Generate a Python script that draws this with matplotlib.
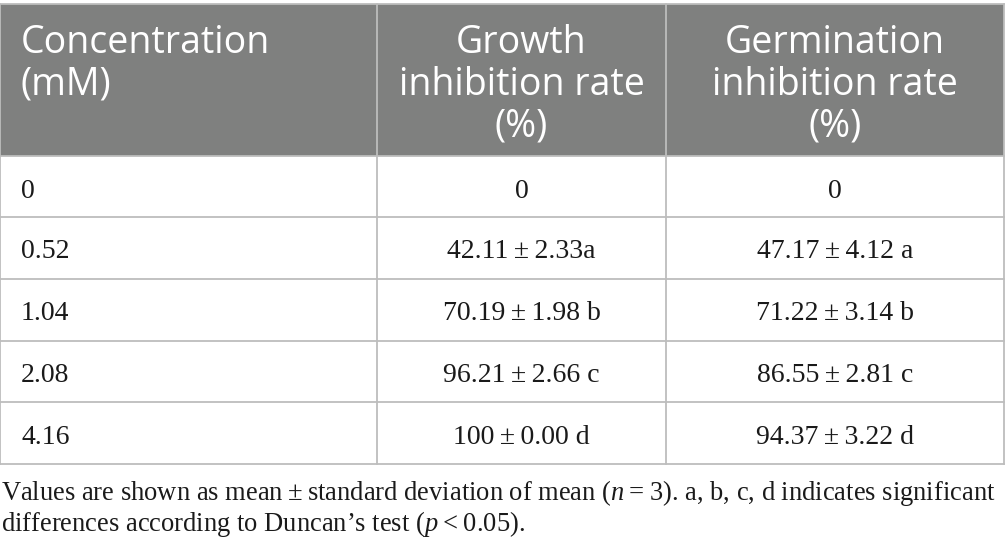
import matplotlib.pyplot as plt
from matplotlib.patches import Rectangle

# -----------------------------------
# Table content
# -----------------------------------
headers = [["Concentration", "(mM)"],
           ["Growth", "inhibition rate", "(%)"],
           ["Germination", "inhibition rate", "(%)"]]
concentration = ["0", "0.52", "1.04", "2.08", "4.16"]
growth_rate = ["0", "42.11\u2009±\u20092.33a", "70.19\u2009±\u20091.98 b", "96.21\u2009±\u20092.66 c", "100\u2009±\u20090.00 d"]
germination_rate = ["0", "47.17\u2009±\u20094.12 a", "71.22\u2009±\u20093.14 b", "86.55\u2009±\u20092.81 c", "94.37\u2009±\u20093.22 d"]
caption = [
    "Values are shown as mean\u2009±\u2009standard deviation of mean ($n$\u2009=\u20093). a, b, c, d indicates significant",
    "differences according to Duncan\u2019s test ($p$\u2009<\u20090.05).",
]

plt.rcParams['mathtext.fontset'] = 'custom'
plt.rcParams['mathtext.rm'] = 'Liberation Serif'
plt.rcParams['mathtext.it'] = 'Liberation Serif:italic'

W, H = 1005, 553
fig = plt.figure(figsize=(W / 100, H / 100), dpi=100)
ax = fig.add_axes([0, 0, 1, 1])
ax.set_xlim(0, W)
ax.set_ylim(H, 0)
ax.axis('off')

col_x = [0, 377, 666, 1004]
row_y = [4, 156, 217, 279, 341, 402, 464]
line_col = '#bdbdbd'
head_col = '#7f807f'

# header background
ax.add_patch(Rectangle((0, row_y[0]), col_x[-1], row_y[1] - row_y[0], color=head_col, lw=0))

# grid lines
for y in row_y:
    ax.plot([0, col_x[-1]], [y, y], color=line_col, lw=1.3)
for x in col_x:
    ax.plot([x, x], [row_y[0], row_y[-1]], color=line_col, lw=1.3)

# header text, one line at a time
head_font = dict(family='Open Sans', fontsize=27, color='white')
head_base = [53, 95, 137]
for j, lines in enumerate(headers):
    for k, line in enumerate(lines):
        if j == 0:
            ax.text(21, head_base[k], line, ha='left', va='baseline', **head_font)
        else:
            ax.text((col_x[j] + col_x[j + 1]) / 2, head_base[k], line, ha='center', va='baseline', **head_font)

# body rows
body_font = dict(family=['Liberation Serif', 'DejaVu Serif'], fontsize=20, color='#1a1a1a')
for i in range(len(concentration)):
    yb = row_y[i + 1] + 41.5
    ax.text(21, yb, concentration[i], ha='left', va='baseline', **body_font)
    ax.text((col_x[1] + col_x[2]) / 2, yb, growth_rate[i], ha='center', va='baseline', **body_font)
    ax.text((col_x[2] + col_x[3]) / 2, yb, germination_rate[i], ha='center', va='baseline', **body_font)

# footnote
cap_font = dict(body_font, fontsize=19.1)
ax.text(1, 500, caption[0], ha='left', va='baseline', **cap_font)
ax.text(1, 531, caption[1], ha='left', va='baseline', **cap_font)

fig.savefig('out.png', dpi=100)
